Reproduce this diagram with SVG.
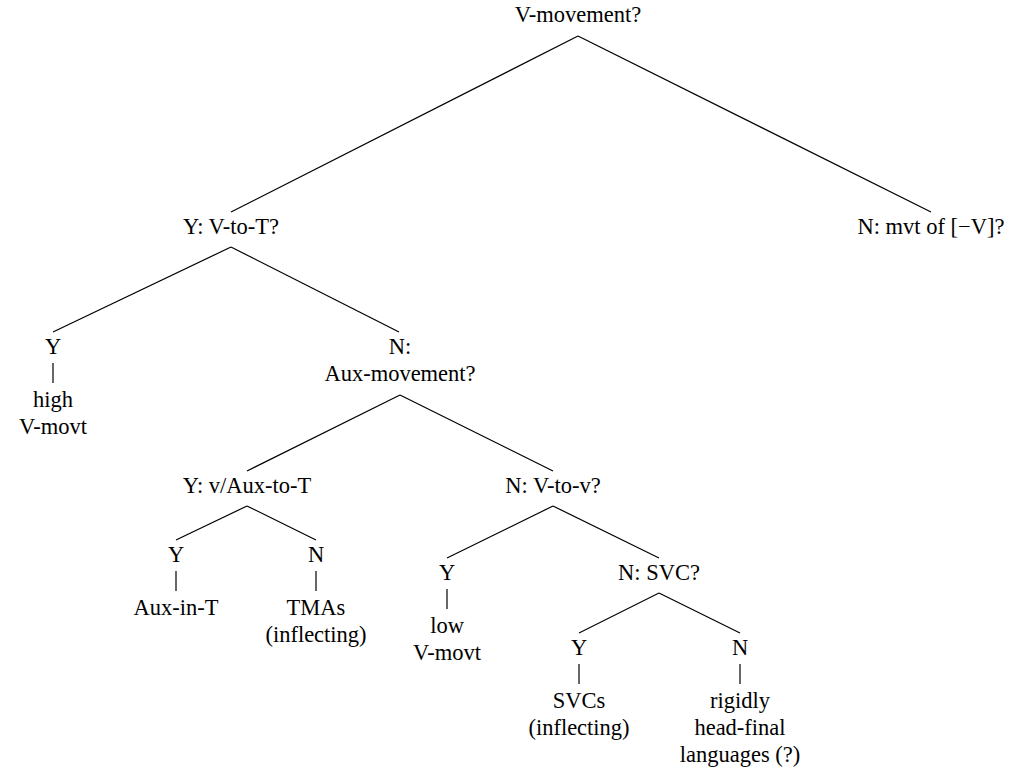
<svg xmlns="http://www.w3.org/2000/svg" width="1022" height="774" viewBox="0 0 1022 774">
<style>
.t text{font-family:"Liberation Serif","Times New Roman",serif;font-size:22.5px;fill:#000;text-anchor:middle}
.e line{stroke:#000;stroke-width:1.2;fill:none}
</style>
<rect width="1022" height="774" fill="#fff"/>
<g class="e" id="connectors">
<line x1="578" y1="36" x2="231" y2="212"/>
<line x1="578" y1="36" x2="931" y2="212"/>
<line x1="231" y1="247" x2="53" y2="332"/>
<line x1="231" y1="247" x2="399" y2="332"/>
<line x1="53" y1="363" x2="53" y2="383"/>
<line x1="400" y1="395" x2="247" y2="471"/>
<line x1="400" y1="395" x2="553" y2="471"/>
<line x1="247" y1="506" x2="176" y2="540"/>
<line x1="247" y1="506" x2="316" y2="540"/>
<line x1="176" y1="571" x2="176" y2="591"/>
<line x1="316" y1="571" x2="316" y2="591"/>
<line x1="553" y1="506" x2="447" y2="558"/>
<line x1="553" y1="506" x2="659" y2="558"/>
<line x1="447" y1="589" x2="447" y2="609"/>
<line x1="659" y1="593" x2="579" y2="633"/>
<line x1="659" y1="593" x2="740" y2="633"/>
<line x1="579" y1="664" x2="579" y2="684"/>
<line x1="740" y1="664" x2="740" y2="684"/>
</g>
<g class="t">
<g id="root"><text x="578" y="22">V-movement?</text></g>
<g id="vtoT"><text x="231" y="234">Y: V-to-T?</text></g>
<g id="mvtV"><text x="931" y="234">N: mvt of [−V]?</text></g>
<g id="highY"><text x="53" y="354">Y</text></g>
<g id="high"><text x="53" y="407">high</text><text x="53" y="434">V-movt</text></g>
<g id="auxmov"><text x="400" y="354">N:</text><text x="400" y="381">Aux-movement?</text></g>
<g id="vauxT"><text x="247" y="493">Y: v/Aux-to-T</text></g>
<g id="vtov"><text x="553" y="493">N: V-to-v?</text></g>
<g id="auxY"><text x="176" y="562">Y</text></g>
<g id="auxinT"><text x="176" y="615">Aux-in-T</text></g>
<g id="tmaN"><text x="316" y="562">N</text></g>
<g id="tmas"><text x="316" y="615">TMAs</text><text x="316" y="642">(inflecting)</text></g>
<g id="lowY"><text x="447" y="580">Y</text></g>
<g id="low"><text x="447" y="633">low</text><text x="447" y="660">V-movt</text></g>
<g id="svcq"><text x="659" y="580">N: SVC?</text></g>
<g id="svcY"><text x="579" y="655">Y</text></g>
<g id="svcs"><text x="579" y="708">SVCs</text><text x="579" y="735">(inflecting)</text></g>
<g id="svcN"><text x="740" y="655">N</text></g>
<g id="rigid"><text x="740" y="708">rigidly</text><text x="740" y="735">head-final</text><text x="740" y="762">languages (?)</text></g>
</g>
</svg>
